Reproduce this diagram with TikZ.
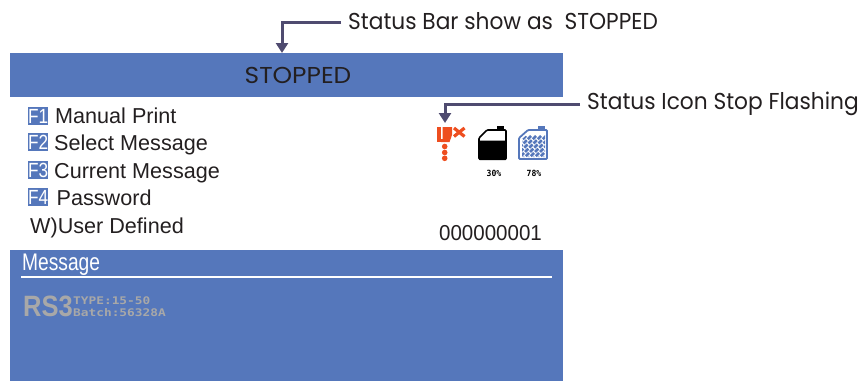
\documentclass[tikz,border=0pt]{standalone}
\usepackage{fontspec}
\setmainfont{Liberation Sans}
\newfontfamily\geo{Poppins}
\newfontfamily\pix{DejaVu Sans Mono}
\usetikzlibrary{arrows.meta,calc}
\definecolor{panel}{HTML}{5577BB}
\definecolor{conn}{HTML}{4F4B70}
\definecolor{iconred}{HTML}{EE4E1F}
\definecolor{pixgray}{HTML}{A8A8A8}
\definecolor{ink}{HTML}{231F20}
\tikzset{
 panelbox/.style={fill=panel,draw=none,inner sep=0,outer sep=0,anchor=north west},
 connector/.style={draw=conn,line width=3pt,-{Triangle[width=12pt,length=10pt]}},
 callout/.style={font=\geo\fontsize{23}{23}\selectfont,text=ink,anchor=west,inner sep=0},
 menu/.style={font=\fontsize{21.6}{21.6}\selectfont,text=ink,anchor=base west,inner sep=0},
 fkey/.style={fill=panel,text=white,font=\fontsize{20.5}{20.5}\selectfont,text height=14.5pt,text depth=0pt,minimum width=20pt,minimum height=18pt,inner sep=0,anchor=west},
 pct/.style={font=\pix\bfseries\fontsize{8.5}{8.5}\selectfont,inner sep=0},
 pixtext/.style={font=\pix\bfseries\fontsize{10.5}{10.5}\selectfont,text=pixgray,anchor=west,inner sep=0},
}
\begin{document}
\begin{tikzpicture}[x=1pt,y=-1pt]
\useasboundingbox (0,0) rectangle (864,381);
\node[panelbox,minimum width=553pt,minimum height=44pt] (bar) at (10,53) {};
\node[panelbox,minimum width=553pt,minimum height=131pt] (msg) at (10,250) {};
\node[font=\geo\fontsize{23}{23}\selectfont,text=ink,inner sep=0] (stopped) at (298,75.5) {\scalebox{1.08}[1]{STOPPED}};
% callouts
\node[callout] (barlabel) at (348,21) {\scalebox{0.944}[1]{Status Bar show as\ \ STOPPED}};
\node[callout] (iconlabel) at (587,104) {\scalebox{0.944}[1]{Status Icon Stop Flashing}};
\coordinate (bartip) at (282,53);
\coordinate (icontip) at (445,123);
\draw[connector] ($(barlabel.west)+(-7,1.5)$) -| (bartip);
\draw[connector] ($(iconlabel.west)+(-7,0)$) -| (icontip);
% menu
\node[fkey] (f1) at (28,116) {\scalebox{0.84}[1]{F1}};
\node[fkey] (f2) at (28,142) {\scalebox{0.84}[1]{F2}};
\node[fkey] (f3) at (28,170) {\scalebox{0.84}[1]{F3}};
\node[fkey] (f4) at (28,197) {\scalebox{0.84}[1]{F4}};
\node[menu] (m1) at (55,123.5) {Manual Print};
\node[menu] (m2) at (54,150.5) {Select Message};
\node[menu] (m3) at (54,178) {Current Message};
\node[menu] (m4) at (56.5,205) {Password};
\node[menu] (m5) at (30,233) {W)User Defined};
\node[menu,anchor=center] (count) at (490.5,233) {\scalebox{0.95}[1]{000000001}};
% message panel
\node[anchor=base west,inner sep=0,text=white,font=\fontsize{24}{24}\selectfont] (msgtitle) at (22,270) {\scalebox{0.8}[1]{Message}};
\coordinate (ruleA) at (21,276.5);
\coordinate (ruleB) at (552,276.5);
\draw[white,line width=2pt] (ruleA) -- (ruleB);
\node[anchor=west,inner sep=0,text=pixgray,font=\bfseries\fontsize{30}{30}\selectfont] (rs) at (23,306) {\scalebox{0.85}[0.98]{RS3}};
\node[pixtext] (type) at (73,300.5) {\scalebox{1.22}[1]{TYPE:15-50}};
\node[pixtext] (batch) at (73,312.5) {\scalebox{1.22}[1]{Batch:56328A}};
% nozzle icon
\fill[iconred] (437,127) rectangle (441.3,142);
\fill[iconred] (442.6,127) -- (452,127) -- (452,135) -- (449.5,142) -- (441,142) -- (441,139) -- (442.6,139) -- cycle;
\fill[iconred] (444.7,146.5) circle (2.8);
\fill[iconred] (444.7,152.5) circle (2.8);
\fill[iconred] (444.7,158.3) circle (2.8);
\draw[iconred,line width=3.2pt] (454,128) -- (464.5,136.5);
\draw[iconred,line width=3.2pt] (464.5,128) -- (454,136.5);
% black can
\draw[black,line width=1.6pt,rounded corners=1pt] (479,138) -- (487,130) -- (506,130) -- (506,159) -- (479,159) -- cycle;
\fill[black] (497,126) rectangle (504,130);
\fill[black,rounded corners=1pt] (478.5,140.5) -- (506.5,140.5) -- (506.5,160) -- (478.5,160) -- cycle;
\node[pct] (p30) at (494,173) {\scalebox{0.95}[1]{30\%}};
% blue can
\begin{scope}
\clip (522,139) -- (529,133) -- (545,133) -- (545,157) -- (522,157) -- cycle;
\foreach \k in {0,5,...,55}{
 \draw[panel,line width=2.6pt,dash pattern=on 4.5pt off 1.5pt] ($(516,136)+(\k,0)$) -- ($(516,136)+(\k-24,24)$);
}
\end{scope}
\draw[panel,line width=1.8pt,rounded corners=1pt] (519,138) -- (528,130) -- (547,130) -- (547,159) -- (519,159) -- cycle;
\fill[panel] (538,126) rectangle (545,130);
\node[pct] (p78) at (534,173) {\scalebox{0.95}[1]{78\%}};
\end{tikzpicture}
\end{document}
